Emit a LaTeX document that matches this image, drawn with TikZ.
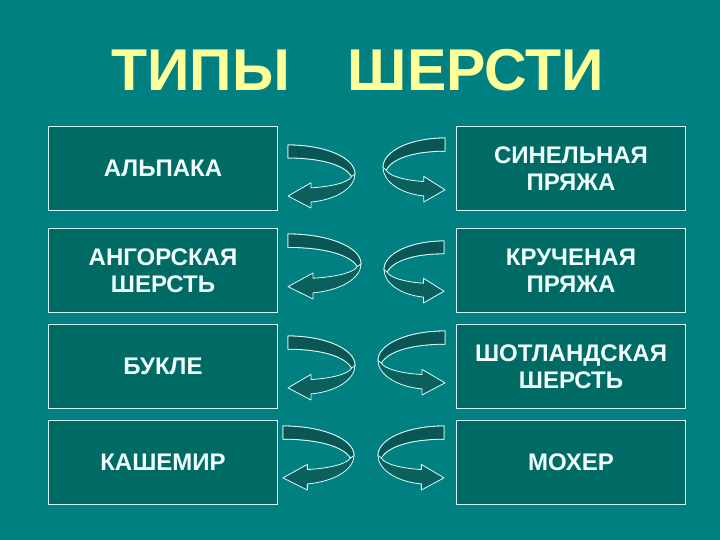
\documentclass[tikz,border=0pt]{standalone}
\usepackage{fontspec}
\setmainfont{Liberation Sans}
\definecolor{bg}{HTML}{008080}
\definecolor{boxfill}{HTML}{006A64}
\definecolor{edgecol}{HTML}{D8FFFF}
\definecolor{bandfront}{HTML}{0B605D}
\definecolor{bandrear}{HTML}{095654}
\definecolor{titlecol}{HTML}{FFFF99}
\definecolor{textcol}{HTML}{F2FFFF}
\tikzset{
  woolbox/.style={draw=edgecol, line width=1pt, fill=boxfill, minimum width=229pt,
    minimum height=84pt, inner sep=0pt, text=textcol,
    font=\bfseries\fontsize{24}{27}\selectfont, align=center, anchor=north west},
  ribbonfront/.style={draw=edgecol, line width=0.8pt, fill=bandfront, line join=round},
  ribbonrear/.style={draw=edgecol, line width=0.8pt, fill=bandrear, line join=round},
  titletext/.style={text=titlecol, font=\bfseries\fontsize{59}{60}\selectfont, inner sep=0pt, anchor=base},
}
\newcommand\ribbonshape{%
  \draw[ribbonfront] (0,0) .. controls (0.55,0) and (1,0.2) .. (1,0.46)
    .. controls (1,0.68) and (0.72,0.87) .. (0.343,0.905) -- (0.343,1) -- (0,0.81)
    -- (0.343,0.6) -- (0.343,0.68) .. controls (0.62,0.665) and (0.9,0.6) .. (0.95,0.5)
    .. controls (0.85,0.32) and (0.5,0.206) .. (0,0.206) -- cycle;
  \draw[ribbonrear] (0,0) .. controls (0.55,0) and (1,0.2) .. (1,0.46) -- (0.95,0.5)
    .. controls (0.85,0.32) and (0.5,0.206) .. (0,0.206) -- cycle;
}
\newcommand\leftribbon[4]{%
  \begin{scope}[shift={(#1,#2)}, x=#3pt, y=-#4pt]\ribbonshape\end{scope}}
\newcommand\rightribbon[4]{%
  \begin{scope}[shift={(#1+#3,#2)}, x=-#3pt, y=-#4pt]\ribbonshape\end{scope}}
\begin{document}
\begin{tikzpicture}[x=1pt, y=-1pt]
  \fill[bg] (0,0) rectangle (720,540);
  \useasboundingbox (0,0) rectangle (720,540);
  % title
  \node[titletext] (t1) at (200.5,91) {ТИПЫ};
  \node[titletext] (t2) at (476,91) {ШЕРСТИ};
  % left boxes
  \node[woolbox] (alpaca)   at (48,126) {АЛЬПАКА};
  \node[woolbox] (angora)   at (48,228) {АНГОРСКАЯ\\ШЕРСТЬ};
  \node[woolbox] (boucle)   at (48,324) {БУКЛЕ};
  \node[woolbox] (cashmere) at (48,420) {КАШЕМИР};
  % right boxes
  \node[woolbox] (chenille) at (456,126) {СИНЕЛЬНАЯ\\ПРЯЖА};
  \node[woolbox] (twisted)  at (456,228) {КРУЧЕНАЯ\\ПРЯЖА};
  \node[woolbox] (scottish) at (456,324) {ШОТЛАНДСКАЯ\\ШЕРСТЬ};
  \node[woolbox] (mohair)   at (456,420) {МОХЕР};
  % curved arrows
  \leftribbon{288}{145}{67}{63}
  \rightribbon{383}{138}{62}{64}
  \leftribbon{288}{234}{73}{65}
  \rightribbon{384}{241}{60}{62}
  \leftribbon{288}{336}{67}{64}
  \rightribbon{378}{331}{67}{64}
  \leftribbon{283}{426}{71}{64}
  \rightribbon{378}{426}{66}{64}
\end{tikzpicture}
\end{document}
